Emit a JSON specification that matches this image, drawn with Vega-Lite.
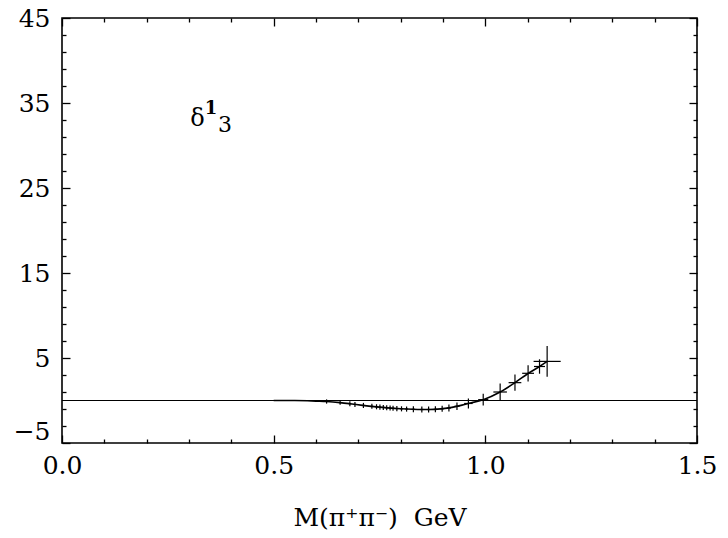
{
  "$schema": "https://vega.github.io/schema/vega-lite/v6.json",
  "width": 635,
  "height": 425,
  "autosize": {"type": "none"},
  "padding": {"left": 62, "top": 18, "right": 31, "bottom": 95},
  "background": "white",
  "config": {
    "view": {"stroke": "black", "strokeWidth": 1.6},
    "font": "DejaVu Serif",
    "axis": {"domain": false, "grid": false, "labelFont": "DejaVu Serif", "titleFont": "DejaVu Serif", "labelColor": "black", "titleColor": "black", "tickColor": "black", "tickWidth": 1.3, "labelFontSize": 25, "titleFontSize": 25, "titleFontWeight": "normal"}
  },
  "datasets": {
    "pts": [
      {"m": 0.625, "d": -0.12, "mlo": 0.622, "mhi": 0.628, "dlo": -0.37, "dhi": 0.13},
      {"m": 0.657, "d": -0.25, "mlo": 0.654, "mhi": 0.660, "dlo": -0.5, "dhi": 0.0},
      {"m": 0.680, "d": -0.38, "mlo": 0.677, "mhi": 0.683, "dlo": -0.68, "dhi": -0.08},
      {"m": 0.692, "d": -0.47, "mlo": 0.689, "mhi": 0.695, "dlo": -0.77, "dhi": -0.17},
      {"m": 0.712, "d": -0.58, "mlo": 0.709, "mhi": 0.715, "dlo": -0.88, "dhi": -0.28},
      {"m": 0.732, "d": -0.68, "mlo": 0.729, "mhi": 0.735, "dlo": -0.98, "dhi": -0.38},
      {"m": 0.743, "d": -0.74, "mlo": 0.740, "mhi": 0.746, "dlo": -1.04, "dhi": -0.44},
      {"m": 0.751, "d": -0.78, "mlo": 0.748, "mhi": 0.754, "dlo": -1.08, "dhi": -0.48},
      {"m": 0.759, "d": -0.82, "mlo": 0.756, "mhi": 0.762, "dlo": -1.12, "dhi": -0.52},
      {"m": 0.767, "d": -0.86, "mlo": 0.764, "mhi": 0.770, "dlo": -1.16, "dhi": -0.56},
      {"m": 0.775, "d": -0.89, "mlo": 0.772, "mhi": 0.778, "dlo": -1.19, "dhi": -0.59},
      {"m": 0.782, "d": -0.92, "mlo": 0.779, "mhi": 0.785, "dlo": -1.22, "dhi": -0.62},
      {"m": 0.791, "d": -0.95, "mlo": 0.788, "mhi": 0.794, "dlo": -1.25, "dhi": -0.65},
      {"m": 0.802, "d": -0.98, "mlo": 0.799, "mhi": 0.805, "dlo": -1.28, "dhi": -0.68},
      {"m": 0.814, "d": -1.01, "mlo": 0.811, "mhi": 0.817, "dlo": -1.31, "dhi": -0.71},
      {"m": 0.830, "d": -1.04, "mlo": 0.826, "mhi": 0.834, "dlo": -1.39, "dhi": -0.69},
      {"m": 0.850, "d": -1.06, "mlo": 0.846, "mhi": 0.854, "dlo": -1.41, "dhi": -0.71},
      {"m": 0.866, "d": -1.06, "mlo": 0.862, "mhi": 0.870, "dlo": -1.41, "dhi": -0.71},
      {"m": 0.882, "d": -1.04, "mlo": 0.878, "mhi": 0.886, "dlo": -1.39, "dhi": -0.69},
      {"m": 0.898, "d": -0.98, "mlo": 0.894, "mhi": 0.902, "dlo": -1.33, "dhi": -0.63},
      {"m": 0.914, "d": -0.88, "mlo": 0.909, "mhi": 0.919, "dlo": -1.28, "dhi": -0.48},
      {"m": 0.933, "d": -0.68, "mlo": 0.927, "mhi": 0.939, "dlo": -1.13, "dhi": -0.23},
      {"m": 0.960, "d": -0.35, "mlo": 0.950, "mhi": 0.970, "dlo": -0.95, "dhi": 0.25},
      {"m": 0.995, "d": 0.1, "mlo": 0.983, "mhi": 1.007, "dlo": -0.6, "dhi": 0.8},
      {"m": 1.035, "d": 1.0, "mlo": 1.019, "mhi": 1.051, "dlo": 0.0, "dhi": 2.0},
      {"m": 1.070, "d": 2.1, "mlo": 1.055, "mhi": 1.085, "dlo": 1.15, "dhi": 3.05},
      {"m": 1.101, "d": 3.2, "mlo": 1.087, "mhi": 1.115, "dlo": 2.25, "dhi": 4.15},
      {"m": 1.128, "d": 4.0, "mlo": 1.115, "mhi": 1.141, "dlo": 3.15, "dhi": 4.85},
      {"m": 1.146, "d": 4.6, "mlo": 1.114, "mhi": 1.178, "dlo": 2.8, "dhi": 6.4}
    ],
    "curve": [
      {"m": 0.50, "d": 0.0},
      {"m": 0.55, "d": 0.0},
      {"m": 0.58, "d": -0.03},
      {"m": 0.60, "d": -0.07},
      {"m": 0.625, "d": -0.12},
      {"m": 0.657, "d": -0.25},
      {"m": 0.68, "d": -0.38},
      {"m": 0.71, "d": -0.57},
      {"m": 0.75, "d": -0.78},
      {"m": 0.80, "d": -0.97},
      {"m": 0.85, "d": -1.06},
      {"m": 0.88, "d": -1.04},
      {"m": 0.91, "d": -0.9},
      {"m": 0.935, "d": -0.66},
      {"m": 0.96, "d": -0.35},
      {"m": 0.995, "d": 0.1},
      {"m": 1.035, "d": 1.0},
      {"m": 1.07, "d": 2.1},
      {"m": 1.10, "d": 3.15},
      {"m": 1.128, "d": 4.0},
      {"m": 1.146, "d": 4.6}
    ]
  },
  "layer": [
    {
      "data": {"values": [{"zero": 0}]},
      "mark": {"type": "rule", "color": "black", "strokeWidth": 1.1},
      "encoding": {"y": {"field": "zero", "type": "quantitative", "scale": {"domain": [-5, 45], "nice": false, "zero": false}, "axis": null}}
    },
    {
      "data": {"name": "curve"},
      "mark": {"type": "line", "color": "black", "strokeWidth": 1.6, "interpolate": "monotone"},
      "encoding": {
        "x": {"field": "m", "type": "quantitative", "scale": {"domain": [0, 1.5], "nice": false, "zero": false},
          "axis": {"orient": "bottom", "title": "M(π⁺π⁻)\u00a0\u00a0GeV", "titlePadding": 27,
            "values": [0, 0.1, 0.2, 0.3, 0.4, 0.5, 0.6, 0.7, 0.8, 0.9, 1.0, 1.1, 1.2, 1.3, 1.4, 1.5],
            "labelExpr": "abs(datum.value*2 - round(datum.value*2)) < 0.001 ? format(datum.value, '.1f') : ''",
            "tickSize": {"condition": {"test": "abs(datum.value*2 - round(datum.value*2)) < 0.001", "value": -8}, "value": -4},
            "labelPadding": 18, "labelFlush": false}},
        "y": {"field": "d", "type": "quantitative", "scale": {"domain": [-5, 45], "nice": false, "zero": false},
          "axis": {"orient": "left", "title": null,
            "values": [-5, -3, -1, 1, 3, 5, 7, 9, 11, 13, 15, 17, 19, 21, 23, 25, 27, 29, 31, 33, 35, 37, 39, 41, 43, 45],
            "labelExpr": "(datum.value + 5) % 10 === 0 ? format(datum.value, 'd') : ''",
            "tickSize": {"condition": {"test": "(datum.value + 5) % 10 === 0", "value": -8}, "value": -4},
            "labelOffset": {"condition": {"test": "datum.value === -5", "value": -12}, "value": 0},
            "labelPadding": 20, "labelFlush": false}}
      }
    },
    {
      "data": {"name": "pts"},
      "mark": {"type": "rule", "color": "black", "strokeWidth": 1.2},
      "encoding": {
        "x": {"field": "m", "type": "quantitative",
          "axis": {"orient": "top", "title": null, "labels": false,
            "values": [0, 0.1, 0.2, 0.3, 0.4, 0.5, 0.6, 0.7, 0.8, 0.9, 1.0, 1.1, 1.2, 1.3, 1.4, 1.5],
            "tickSize": {"condition": {"test": "abs(datum.value*2 - round(datum.value*2)) < 0.001", "value": -8}, "value": -4}}},
        "y": {"field": "dlo", "type": "quantitative",
          "axis": {"orient": "right", "title": null, "labels": false,
            "values": [-5, -3, -1, 1, 3, 5, 7, 9, 11, 13, 15, 17, 19, 21, 23, 25, 27, 29, 31, 33, 35, 37, 39, 41, 43, 45],
            "tickSize": {"condition": {"test": "(datum.value + 5) % 10 === 0", "value": -8}, "value": -4}}},
        "y2": {"field": "dhi"}
      }
    },
    {
      "data": {"name": "pts"},
      "mark": {"type": "rule", "color": "black", "strokeWidth": 1.2},
      "encoding": {
        "x": {"field": "mlo", "type": "quantitative", "axis": null},
        "x2": {"field": "mhi"},
        "y": {"field": "d", "type": "quantitative", "axis": null}
      }
    },
    {
      "data": {"values": [{"x": 0.320, "y": 32.3, "t": "δ"}]},
      "mark": {"type": "text", "font": "DejaVu Serif", "fontSize": 24, "align": "center", "baseline": "alphabetic", "color": "black"},
      "encoding": {
        "x": {"field": "x", "type": "quantitative", "axis": null},
        "y": {"field": "y", "type": "quantitative", "axis": null},
        "text": {"field": "t"}
      }
    },
    {
      "data": {"values": [{"x": 0.352, "y": 33.7, "t": "1"}]},
      "mark": {"type": "text", "font": "DejaVu Serif", "fontSize": 18, "fontWeight": "bold", "align": "center", "baseline": "alphabetic", "color": "black"},
      "encoding": {
        "x": {"field": "x", "type": "quantitative", "axis": null},
        "y": {"field": "y", "type": "quantitative", "axis": null},
        "text": {"field": "t"}
      }
    },
    {
      "data": {"values": [{"x": 0.385, "y": 31.6, "t": "3"}]},
      "mark": {"type": "text", "font": "DejaVu Serif", "fontSize": 22, "align": "center", "baseline": "alphabetic", "color": "black"},
      "encoding": {
        "x": {"field": "x", "type": "quantitative", "axis": null},
        "y": {"field": "y", "type": "quantitative", "axis": null},
        "text": {"field": "t"}
      }
    }
  ],
  "resolve": {"axis": {"x": "independent", "y": "independent"}}
}
